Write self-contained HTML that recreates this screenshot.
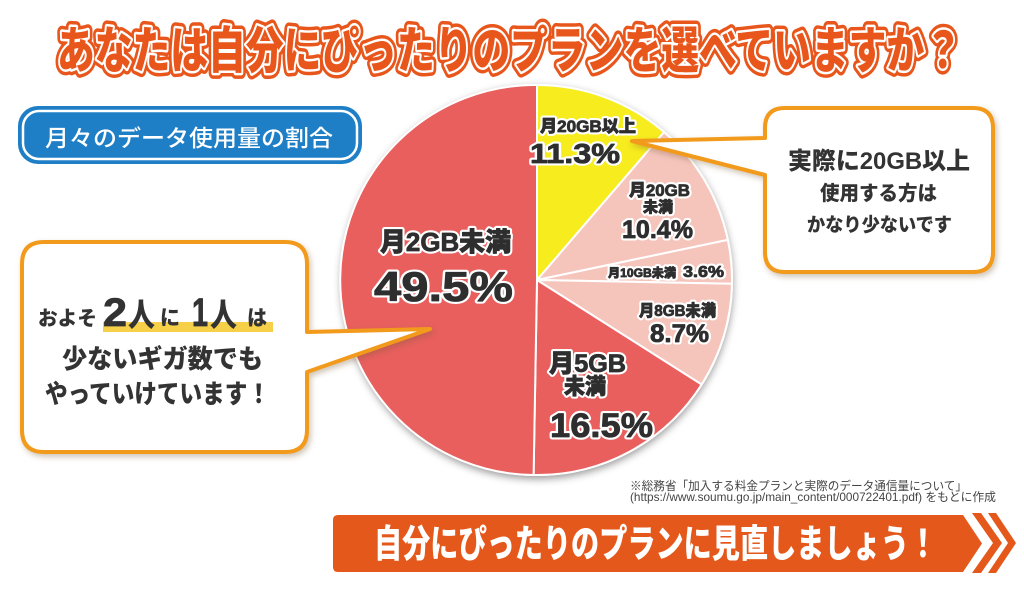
<!DOCTYPE html>
<html><head><meta charset="utf-8"><style>
html,body{margin:0;padding:0;background:#fff;}
svg{display:block;}
text{font-family:"Liberation Sans","Noto Sans CJK JP",sans-serif;}
</style></head><body>
<svg width="1024" height="593" viewBox="0 0 1024 593" xmlns="http://www.w3.org/2000/svg">
<defs>
<filter id="ps" x="-10%" y="-10%" width="120%" height="125%"><feDropShadow dx="0" dy="3" stdDeviation="4" flood-color="#000" flood-opacity="0.4"/></filter>
<filter id="cs" x="-10%" y="-10%" width="125%" height="125%"><feDropShadow dx="2" dy="3" stdDeviation="3" flood-color="#7a5a30" flood-opacity="0.35"/></filter>
</defs>
<rect width="1024" height="593" fill="#fff"/>

<!-- Title -->
<g font-weight="900" font-size="50">
<text x="57" y="68" textLength="905" lengthAdjust="spacingAndGlyphs" fill="none" stroke="#E8561B" stroke-width="12" stroke-linejoin="round">あなたは自分にぴったりのプランを選べていますか？</text>
<text x="57" y="68" textLength="905" lengthAdjust="spacingAndGlyphs" fill="none" stroke="#fff" stroke-width="5" stroke-linejoin="round">あなたは自分にぴったりのプランを選べていますか？</text>
<text x="57" y="68" textLength="905" lengthAdjust="spacingAndGlyphs" fill="#E8561B">あなたは自分にぴったりのプランを選べていますか？</text>
</g>

<!-- Blue label -->
<rect x="18" y="106" width="344" height="58" rx="20" fill="#1F7FC6"/>
<rect x="23" y="111" width="334" height="48" rx="16" fill="none" stroke="#fff" stroke-width="2.5"/>
<text x="45" y="146" font-size="23" font-weight="500" fill="#fff" textLength="288" lengthAdjust="spacingAndGlyphs">月々のデータ使用量の割合</text>

<!-- Pie -->
<g filter="url(#ps)">
<circle cx="537" cy="280" r="196" fill="#fff"/>
</g>
<g stroke="#fff" stroke-width="2" stroke-linejoin="round">
<path d="M537,280 L537,85 A195,195 0 0 1 664.1,132.1 Z" fill="#F6EC1E"/>
<path d="M537,280 L664.1,132.1 A195,195 0 0 1 727.8,239.9 Z" fill="#F5C5BC"/>
<path d="M537,280 L727.8,239.9 A195,195 0 0 1 732,283.7 Z" fill="#F5C5BC"/>
<path d="M537,280 L732,283.7 A195,195 0 0 1 701.6,384.5 Z" fill="#F5C5BC"/>
<path d="M537,280 L701.6,384.5 A195,195 0 0 1 533.6,475 Z" fill="#E85F5E"/>
<path d="M537,280 L533.6,475 A195,195 0 1 1 537,85 Z" fill="#E85F5E"/>
</g>

<!-- Left callout -->
<path filter="url(#cs)" d="M44,242 H285 Q307,242 307,264 V332 L430,329 L307,372 V430 Q307,452 285,452 H44 Q22,452 22,430 V264 Q22,242 44,242 Z" fill="#fff" stroke="#F29A1D" stroke-width="4" stroke-linejoin="round"/>

<!-- Right callout -->
<path filter="url(#cs)" d="M785,108 H973 Q993,108 993,128 V252 Q993,272 973,272 H785 Q765,272 765,252 V175 L632,141 L765,138 V128 Q765,108 785,108 Z" fill="#fff" stroke="#F29A1D" stroke-width="4" stroke-linejoin="round"/>

<!-- Pie labels: white outline layer -->
<g font-weight="900" fill="#fff" stroke="#fff" stroke-width="5" stroke-linejoin="round">
<text x="540" y="132" font-size="17" textLength="96" lengthAdjust="spacingAndGlyphs">月20GB以上</text>
<text x="530" y="163" font-size="28" textLength="90" lengthAdjust="spacingAndGlyphs">11.3%</text>
<text x="629" y="196" font-size="17" textLength="61" lengthAdjust="spacingAndGlyphs">月20GB</text>
<text x="643" y="212" font-size="15" textLength="30" lengthAdjust="spacingAndGlyphs">未満</text>
<text x="622" y="238" font-size="25" textLength="71" lengthAdjust="spacingAndGlyphs">10.4%</text>
<text x="608" y="277" font-size="12" textLength="68" lengthAdjust="spacingAndGlyphs">月10GB未満</text>
<text x="683" y="277" font-size="16" textLength="41" lengthAdjust="spacingAndGlyphs">3.6%</text>
<text x="639" y="316" font-size="16" textLength="77" lengthAdjust="spacingAndGlyphs">月8GB未満</text>
<text x="650" y="342" font-size="25" textLength="59" lengthAdjust="spacingAndGlyphs">8.7%</text>
<text x="549" y="372" font-size="25" textLength="77" lengthAdjust="spacingAndGlyphs">月5GB</text>
<text x="564" y="394" font-size="22" textLength="42" lengthAdjust="spacingAndGlyphs">未満</text>
<text x="550" y="437" font-size="34" textLength="103" lengthAdjust="spacingAndGlyphs">16.5%</text>
<text x="380" y="251" font-size="26" textLength="131" lengthAdjust="spacingAndGlyphs">月2GB未満</text>
<text x="374" y="301" font-size="42" textLength="139" lengthAdjust="spacingAndGlyphs">49.5%</text>
</g>
<!-- Pie labels: dark layer -->
<g font-weight="900" fill="#2E2E2E" stroke="#2E2E2E" stroke-width="0.8" stroke-linejoin="round">
<text x="540" y="132" font-size="17" textLength="96" lengthAdjust="spacingAndGlyphs">月20GB以上</text>
<text x="530" y="163" font-size="28" textLength="90" lengthAdjust="spacingAndGlyphs">11.3%</text>
<text x="629" y="196" font-size="17" textLength="61" lengthAdjust="spacingAndGlyphs">月20GB</text>
<text x="643" y="212" font-size="15" textLength="30" lengthAdjust="spacingAndGlyphs">未満</text>
<text x="622" y="238" font-size="25" textLength="71" lengthAdjust="spacingAndGlyphs">10.4%</text>
<text x="608" y="277" font-size="12" textLength="68" lengthAdjust="spacingAndGlyphs">月10GB未満</text>
<text x="683" y="277" font-size="16" textLength="41" lengthAdjust="spacingAndGlyphs">3.6%</text>
<text x="639" y="316" font-size="16" textLength="77" lengthAdjust="spacingAndGlyphs">月8GB未満</text>
<text x="650" y="342" font-size="25" textLength="59" lengthAdjust="spacingAndGlyphs">8.7%</text>
<text x="549" y="372" font-size="25" textLength="77" lengthAdjust="spacingAndGlyphs">月5GB</text>
<text x="564" y="394" font-size="22" textLength="42" lengthAdjust="spacingAndGlyphs">未満</text>
<text x="550" y="437" font-size="34" textLength="103" lengthAdjust="spacingAndGlyphs">16.5%</text>
<text x="380" y="251" font-size="26" textLength="131" lengthAdjust="spacingAndGlyphs">月2GB未満</text>
<text x="374" y="301" font-size="42" textLength="139" lengthAdjust="spacingAndGlyphs">49.5%</text>
</g>

<!-- Left callout text -->
<rect x="103" y="322" width="170" height="10" fill="#F7D04A"/>
<g font-weight="900" fill="#333">
<text x="38" y="325" font-size="20" textLength="59" lengthAdjust="spacingAndGlyphs">およそ</text>
<text x="103" y="326" font-size="40" textLength="24" lengthAdjust="spacingAndGlyphs" stroke="#333" stroke-width="0.8">2</text>
<text x="128" y="326" font-size="32" textLength="27" lengthAdjust="spacingAndGlyphs">人</text>
<text x="160" y="325" font-size="21" textLength="20" lengthAdjust="spacingAndGlyphs">に</text>
<text x="192" y="326" font-size="40" textLength="16" lengthAdjust="spacingAndGlyphs" stroke="#333" stroke-width="0.8">1</text>
<text x="210" y="326" font-size="32" textLength="27" lengthAdjust="spacingAndGlyphs">人</text>
<text x="247" y="325" font-size="21" textLength="20" lengthAdjust="spacingAndGlyphs">は</text>
<text x="62" y="368" font-size="26" textLength="201" lengthAdjust="spacingAndGlyphs">少ないギガ数でも</text>
<text x="45" y="403" font-size="26" textLength="225" lengthAdjust="spacingAndGlyphs">やっていけています！</text>
</g>

<!-- Right callout text -->
<g font-weight="900" fill="#333">
<text x="788" y="169" font-size="24" textLength="182" lengthAdjust="spacingAndGlyphs">実際に20GB以上</text>
<text x="820" y="200" font-size="20" textLength="117" lengthAdjust="spacingAndGlyphs">使用する方は</text>
<text x="807" y="231" font-size="19" textLength="145" lengthAdjust="spacingAndGlyphs">かなり少ないです</text>
</g>

<!-- Footnote -->
<g fill="#444" font-size="12">
<text x="630" y="490" textLength="337" lengthAdjust="spacingAndGlyphs">※総務省「加入する料金プランと実際のデータ通信量について」</text>
<text x="630" y="501" textLength="366" lengthAdjust="spacingAndGlyphs">(https://www.soumu.go.jp/main_content/000722401.pdf) をもとに作成</text>
</g>

<!-- Banner -->
<path d="M338,515 H963 L982,543.5 L963,572 H338 Q333,572 333,567 V520 Q333,515 338,515 Z" fill="#E5581B"/>
<polygon points="972,513 981,513 1002,543 981,573 972,573 993,543" fill="#E5581B"/>
<polygon points="988,513 996,513 1016,543 996,573 988,573 1008,543" fill="#E5581B"/>
<text x="374" y="557" font-size="38" font-weight="900" fill="#fff" textLength="563" lengthAdjust="spacingAndGlyphs">自分にぴったりのプランに見直しましょう！</text>
</svg>
</body></html>
